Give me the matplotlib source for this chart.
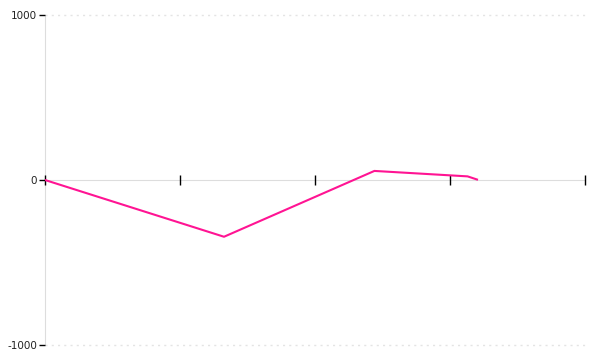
import matplotlib
matplotlib.use("Agg")
import matplotlib.pyplot as plt

# data
x_vals = [0, 1.326, 2.44, 3.13, 3.2]
y_vals = [0, -344, 55, 22, 3]
y_ticks = [-1000, 0, 1000]
x_ticks = [0, 1, 2, 3, 4]

fig = plt.figure(figsize=(6, 3.6), dpi=100)
ax = fig.add_axes([0.075, 0.0417, 0.9, 0.9166])

ax.plot(x_vals, y_vals, color="#ff1493", linewidth=1.5, zorder=3)

ax.set_xlim(0, 4)
ax.set_ylim(-1000, 1000)

# dotted grid lines at the top and bottom
for yv in [-1000, 1000]:
    ax.axhline(yv, color="#e4e4e4", linewidth=1, linestyle=(0, (1.5, 3)),
               zorder=0, clip_on=False)

for side in ["top", "right"]:
    ax.spines[side].set_visible(False)
ax.spines["left"].set_color("#dddddd")
ax.spines["bottom"].set_color("#dddddd")
ax.spines["bottom"].set_position(("data", 0))
ax.spines["bottom"].set_zorder(0.5)
ax.spines["left"].set_zorder(0.5)

ax.set_xticks(x_ticks)
ax.set_xticklabels([])
ax.tick_params(axis="x", direction="inout", length=7, width=1, color="black")
ax.set_yticks(y_ticks)
ax.set_yticklabels([str(t) for t in y_ticks])
ax.tick_params(axis="y", direction="out", length=4.5, width=1, color="black",
               labelsize=7.5, labelcolor="#222222", pad=1)

fig.savefig("out.png", dpi=100)
